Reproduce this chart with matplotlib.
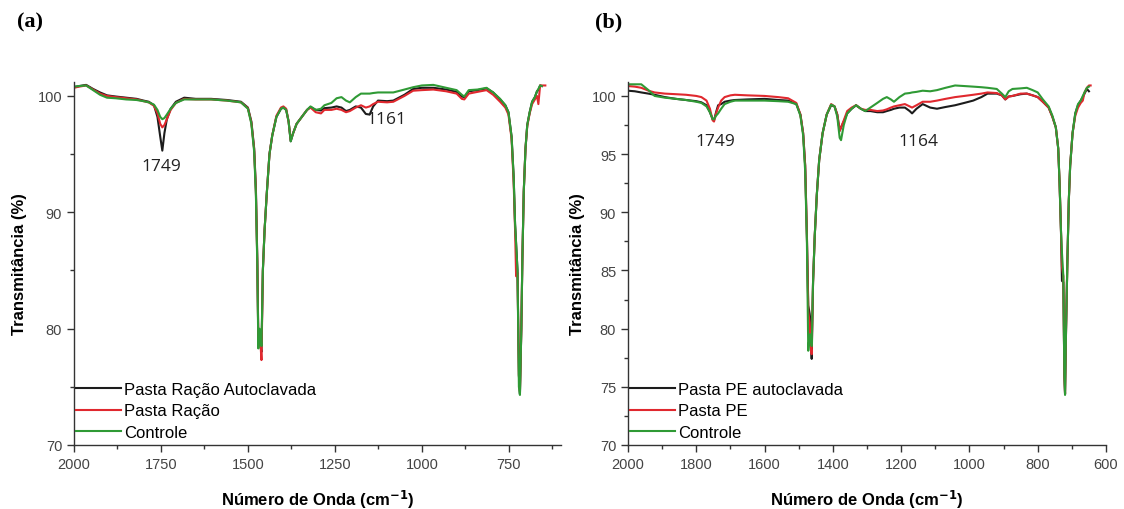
import numpy as np
import matplotlib
matplotlib.use("Agg")
from matplotlib import pyplot as plt
from matplotlib.ticker import MultipleLocator

nan = np.nan

# ---- panel (a): Pasta Ração ----
wn_a = [2000, 1985, 1965, 1945, 1925, 1905, 1880, 1850, 1820, 1800, 1785, 1770, 1760, 1752,
        1746, 1740, 1733, 1722, 1707, 1683, 1650, 1606, 1560, 1520, 1500, 1490, 1482, 1477,
        1473, 1470, 1467, 1464, 1461, 1457, 1452, 1446, 1438, 1430, 1418, 1405, 1398, 1390,
        1383, 1377, 1370, 1360, 1345, 1330, 1320, 1305, 1290, 1280, 1260, 1245, 1231, 1218,
        1207, 1190, 1175, 1161, 1150, 1140, 1126, 1100, 1082, 1050, 1025, 1000, 967, 930,
        900, 885, 878, 865, 840, 814, 795, 775, 760, 751, 742, 736, 732, 729, 725, 721, 718,
        714, 711, 707, 702, 697, 690, 683, 675, 669, 665, 660, 655, 645]
autoclavada_a = [100.75, 100.85, 100.95, 100.6, 100.3, 100.05, 99.95, 99.85, 99.75, 99.6, 99.5,
                 99.2, 98.2, 96.5, 95.3, 96.8, 98.0, 98.9, 99.5, 99.85, 99.75, 99.75, 99.65,
                 99.5, 99.0, 97.8, 95.5, 92.0, 86.0, 79.0, 79.5, 78.5, 78.0, 85.0, 88.5, 91.5,
                 95.0, 96.6, 98.2, 98.9, 99.0, 98.8, 97.8, 96.1, 96.8, 97.6, 98.2, 98.8, 99.05,
                 98.8, 98.75, 98.95, 99.0, 99.1, 99.0, 98.7, 98.8, 99.1, 99.0, 98.45, 98.4,
                 99.1, 99.6, 99.55, 99.6, 100.1, 100.6, 100.7, 100.7, 100.55, 100.35, 99.95,
                 99.9, 100.4, 100.5, 100.65, 100.3, 99.7, 99.2, 98.6, 96.5, 93.0, 89.0, 87.3,
                 85.0, 76.0, 74.4, 80.0, 86.0, 91.8, 95.5, 97.5, 98.6, 99.5, 99.9, 100.4, 100.5,
                 100.9, 100.85, nan]
racao_a = [100.7, 100.8, 100.9, 100.55, 100.2, 100.0, 99.9, 99.8, 99.7, 99.55, 99.45, 99.15,
           98.5, 97.6, 97.3, 97.5, 98.0, 98.8, 99.4, 99.75, 99.7, 99.7, 99.6, 99.45, 98.95,
           97.7, 95.4, 91.8, 85.8, 78.8, 79.8, 78.8, 77.3, 85.0, 88.5, 91.5, 95.0, 96.6, 98.3,
           99.0, 99.1, 98.9, 97.8, 96.2, 96.8, 97.6, 98.2, 98.8, 99.0, 98.6, 98.5, 98.8, 98.8,
           98.9, 98.8, 98.6, 98.7, 99.0, 99.2, 99.0, 99.1, 99.3, 99.5, 99.45, 99.5, 100.0,
           100.45, 100.5, 100.55, 100.4, 100.2, 99.75, 99.7, 100.2, 100.35, 100.5, 100.1,
           99.5, 99.0, 98.4, 96.3, 92.5, 88.5, 84.5, 84.8, 76.0, 74.6, 80.0, 86.0, 91.8, 95.5,
           97.4, 98.5, 99.3, 99.7, 100.0, 99.3, 100.9, 100.9, 100.9]
controle_a = [100.8, 100.85, 100.9, 100.5, 100.1, 99.85, 99.8, 99.7, 99.65, 99.55, 99.45, 99.25,
              98.8, 98.2, 98.0, 98.1, 98.4, 98.9, 99.4, 99.7, 99.7, 99.7, 99.6, 99.45, 98.9,
              97.6, 95.2, 91.5, 85.5, 78.3, 80.0, 79.8, 78.5, 85.0, 88.5, 91.5, 95.0, 96.6,
              98.2, 98.9, 99.0, 98.8, 97.8, 96.1, 96.8, 97.6, 98.2, 98.8, 99.1, 98.8, 98.9,
              99.2, 99.4, 99.8, 99.9, 99.6, 99.45, 99.9, 100.2, 100.2, 100.2, 100.25, 100.3,
              100.3, 100.3, 100.55, 100.75, 100.9, 100.95, 100.7, 100.5, 100.1, 99.95, 100.5,
              100.55, 100.7, 100.3, 99.75, 99.2, 98.6, 96.5, 93.0, 89.0, 87.3, 85.0, 75.0,
              74.3, 80.0, 86.0, 91.8, 95.5, 97.5, 98.6, 99.5, 99.9, 100.4, 100.6, 100.9,
              100.85, nan]

# ---- panel (b): Pasta PE ----
wn_b = [2000, 1980, 1961, 1940, 1922, 1892, 1860, 1830, 1800, 1785, 1770, 1760, 1752, 1748,
        1742, 1736, 1727, 1717, 1700, 1687, 1650, 1600, 1560, 1531, 1507, 1495, 1487, 1481,
        1476, 1472, 1468, 1465, 1462, 1458, 1453, 1447, 1440, 1430, 1418, 1405, 1395, 1387,
        1380, 1376, 1368, 1358, 1345, 1332, 1318, 1305, 1290, 1270, 1253, 1242, 1230, 1221,
        1205, 1189, 1175, 1168, 1155, 1137, 1115, 1095, 1070, 1042, 1015, 989, 965, 947, 920,
        905, 895, 885, 874, 850, 832, 815, 800, 785, 768, 757, 747, 740, 736, 732, 729, 725,
        722, 720, 717, 713, 709, 705, 698, 690, 682, 674, 668, 663, 656, 650, 645]
autoclavada_b = [100.45, 100.4, 100.3, 100.2, 100.1, 99.9, 99.75, 99.65, 99.55, 99.45, 99.2,
                 98.6, 98.0, 97.9, 98.6, 99.2, 99.3, 99.5, 99.6, 99.65, 99.7, 99.75, 99.65,
                 99.6, 99.3, 98.4, 96.8, 94.0, 88.0, 82.0, 81.3, 80.5, 77.4, 84.0, 88.0, 91.5,
                 94.5, 96.8, 98.4, 99.2, 99.1, 98.4, 97.0, 97.3, 97.8, 98.5, 98.9, 99.2, 98.9,
                 98.7, 98.7, 98.6, 98.6, 98.7, 98.8, 98.9, 99.0, 99.0, 98.7, 98.5, 98.9, 99.3,
                 99.0, 98.9, 99.05, 99.2, 99.4, 99.6, 99.9, 100.2, 100.2, 100.05, 99.7, 99.95,
                 100.0, 100.15, 100.2, 100.05, 99.9, 99.5, 99.0, 98.2, 97.3, 95.5, 92.5, 88.5,
                 84.1, 84.0, 76.0, 74.4, 80.0, 86.0, 91.0, 94.0, 96.8, 98.5, 99.2, 99.6, 99.9,
                 100.2, 100.6, 100.4, nan]
pe_b = [100.85, 100.8, 100.7, 100.45, 100.3, 100.2, 100.15, 100.1, 100.0, 99.9, 99.6, 98.9,
        97.9, 97.8, 98.5, 99.0, 99.6, 99.9, 100.05, 100.1, 100.05, 100.0, 99.9, 99.8, 99.4,
        98.4, 96.8, 94.0, 88.0, 81.5, 80.5, 78.5, 77.8, 84.0, 88.0, 91.5, 94.5, 96.8, 98.4,
        99.3, 99.1, 98.4, 97.0, 97.3, 97.9, 98.7, 99.0, 99.2, 98.9, 98.8, 98.8, 98.7, 98.75,
        98.85, 99.0, 99.1, 99.2, 99.3, 99.1, 99.0, 99.2, 99.5, 99.5, 99.6, 99.75, 99.9,
        100.0, 100.1, 100.2, 100.3, 100.25, 100.05, 99.7, 99.95, 100.0, 100.2, 100.2, 100.05,
        99.9, 99.5, 99.0, 98.2, 97.3, 95.5, 92.5, 88.5, 85.3, 84.5, 76.0, 74.4, 80.0, 86.0,
        91.0, 94.0, 96.8, 98.3, 99.0, 99.4, 99.6, 100.3, 100.7, 100.9, 100.9]
controle_b = [101.0, 101.0, 101.0, 100.5, 100.0, 99.85, 99.75, 99.65, 99.5, 99.4, 99.1, 98.6,
              98.0, 98.0, 98.3, 98.5, 98.9, 99.3, 99.5, 99.6, 99.6, 99.6, 99.55, 99.5, 99.3,
              98.3, 96.6, 93.5, 87.5, 78.1, 79.5, 79.5, 78.5, 84.0, 88.0, 91.5, 94.5, 96.8,
              98.4, 99.25, 99.1, 98.2, 96.4, 96.2, 97.5, 98.5, 98.9, 99.2, 98.9, 98.7, 99.0,
              99.4, 99.75, 99.9, 99.7, 99.5, 99.9, 100.2, 100.25, 100.3, 100.35, 100.45, 100.4,
              100.5, 100.7, 100.9, 100.85, 100.8, 100.75, 100.7, 100.6, 100.2, 99.9, 100.4,
              100.6, 100.65, 100.7, 100.5, 100.3, 99.7, 99.1, 98.3, 97.3, 95.5, 92.5, 88.5,
              86.5, 84.5, 76.0, 74.3, 80.0, 86.0, 91.0, 94.0, 96.8, 98.5, 99.3, 99.6, 100.0,
              100.3, 100.7, 100.8, nan]

labels_a = ["Pasta Ração Autoclavada", "Pasta Ração", "Controle"]
labels_b = ["Pasta PE autoclavada", "Pasta PE", "Controle"]
colors = ["#1c1c1c", "#e0282e", "#2f9a35"]

plt.rcParams['font.family'] = ['Liberation Sans', 'DejaVu Sans']
plt.rcParams['mathtext.default'] = 'regular'

fig = plt.figure(figsize=(11.24, 5.10), dpi=100)
ax_a = fig.add_axes([0.0658, 0.1255, 0.4333, 0.7118])
ax_b = fig.add_axes([0.5587, 0.1255, 0.4253, 0.7118])

panels = [
    (ax_a, wn_a, [autoclavada_a, racao_a, controle_a], labels_a, 250, 10),
    (ax_b, wn_b, [autoclavada_b, pe_b, controle_b], labels_b, 200, 5),
]

for ax, wn, series, labels, xstep, ystep in panels:
    for y, lab, c in zip(series, labels, colors):
        ax.plot(wn, y, color=c, lw=1.5, label=lab)
    ax.set_xlim(2000, 600)
    ax.set_ylim(70, 101.2)
    ax.xaxis.set_major_locator(MultipleLocator(xstep))
    ax.xaxis.set_minor_locator(MultipleLocator(xstep / 2))
    ax.yaxis.set_major_locator(MultipleLocator(ystep))
    ax.yaxis.set_minor_locator(MultipleLocator(ystep / 2))
    for s in ['top', 'right']:
        ax.spines[s].set_visible(False)
    for s in ['left', 'bottom']:
        ax.spines[s].set_color('#333333')
        ax.spines[s].set_linewidth(1.0)
    ax.tick_params(which='major', direction='out', length=5, width=1.0, color='#333333',
                   labelsize=10.5, labelcolor='#444444')
    ax.tick_params(which='minor', direction='out', length=3, width=1.0, color='#333333')
    ax.set_xlabel('Número de Onda (cm$^{\\bf{-1}}$)', fontsize=12, fontweight='bold')
    ax.set_ylabel('Transmitância (%)', fontsize=12, fontweight='bold')
    ax.legend(loc='lower left', bbox_to_anchor=(0.0, 0.01), frameon=False, fontsize=12,
              handlelength=2.7, handletextpad=0.2, labelspacing=0.38, borderaxespad=0.1,
              borderpad=0.0)

ax_a.xaxis.set_label_coords(0.5, -0.118)
ax_a.yaxis.set_label_coords(-0.096, 0.5)
ax_b.xaxis.set_label_coords(0.5, -0.118)
ax_b.yaxis.set_label_coords(-0.09, 0.5)

# ax_a tick labels stop at 750
ax_a.set_xticks([2000, 1750, 1500, 1250, 1000, 750])

ann = dict(fontsize=12.5, family=['Open Sans', 'DejaVu Sans'], color='#222222', ha='center', va='center')
ax_a.text(1750, 94.0, '1749', **ann)
ax_a.text(1102, 98.0, '1161', **ann)
ax_b.text(1743, 96.1, '1749', **ann)
ax_b.text(1150, 96.1, '1164', **ann)

fig.text(0.015, 0.955, '(a)', fontsize=16, fontweight='bold',
         family=['Liberation Serif', 'DejaVu Serif'], va='center', ha='left')
fig.text(0.529, 0.955, '(b)', fontsize=16, fontweight='bold',
         family=['Liberation Serif', 'DejaVu Serif'], va='center', ha='left')

fig.savefig('out.png', dpi=100)
